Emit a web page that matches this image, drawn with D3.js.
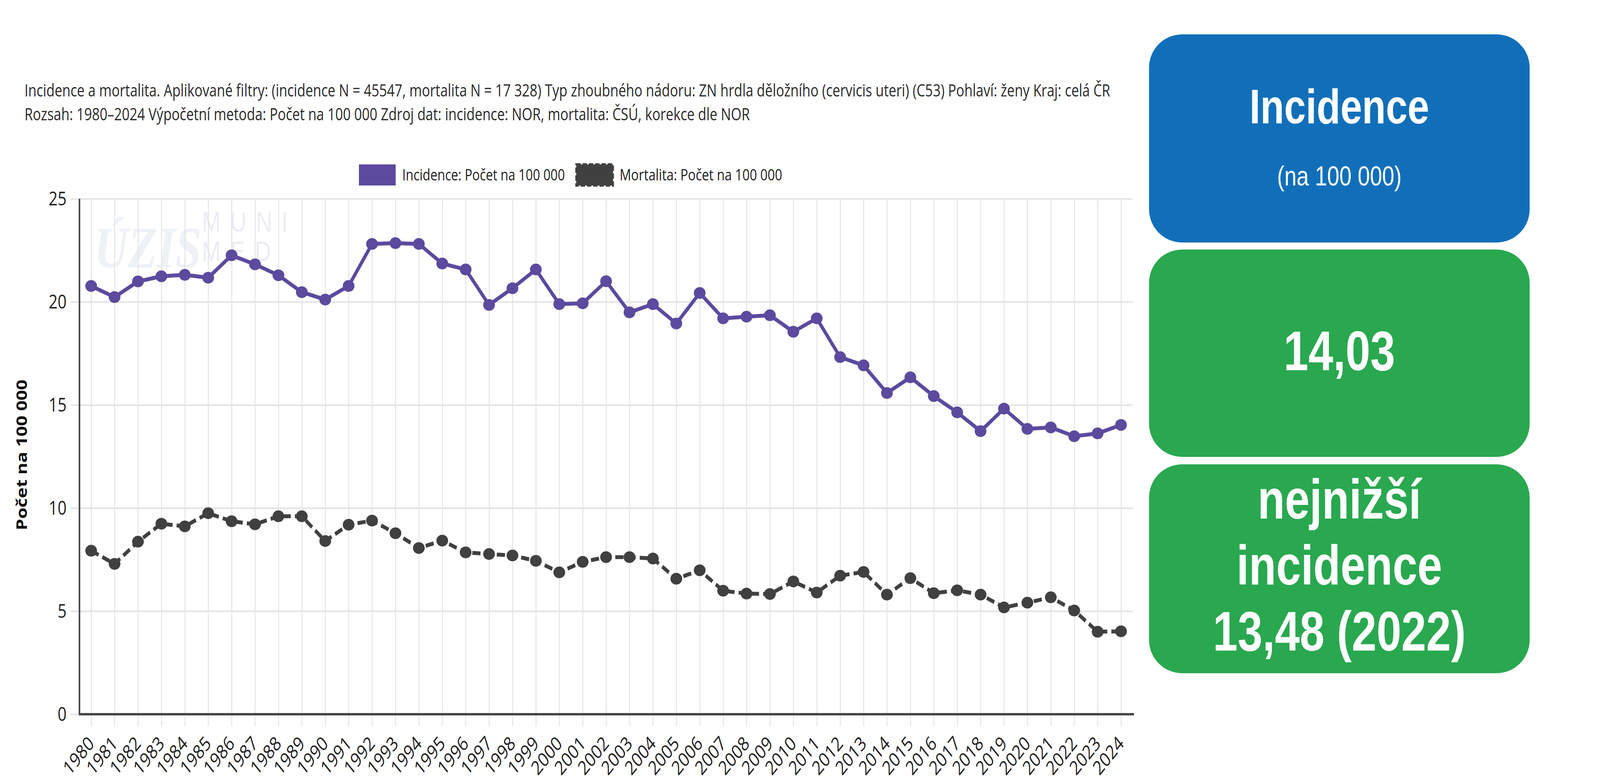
<!DOCTYPE html>
<html>
<head>
<meta charset="utf-8">
<script src="https://cdn.jsdelivr.net/npm/d3@7"></script>
<style>
	html, body { margin: 0; padding: 0; background: #fff; overflow: hidden; }
	svg { display: block; width: 100vw; height: 100vh; }
	.grid line { stroke: #e4e4e4; }
	.grid path { display: none; }
	.ticks path, .ticks line { display: none; }
	.ticks text { font-family: "Open Sans", sans-serif; fill: #222; }
</style>
</head>
<body>
<script>
const years     = d3.range(1980, 2025);
const incidence = [20.77, 20.23, 20.99, 21.24, 21.31, 21.17, 22.26, 21.82, 21.29, 20.47,
                   20.11, 20.77, 22.81, 22.85, 22.81, 21.86, 21.57, 19.85, 20.66, 21.57,
                   19.89, 19.93, 21.00, 19.49, 19.89, 18.95, 20.43, 19.20, 19.28, 19.35,
                   18.55, 19.20, 17.32, 16.92, 15.58, 16.34, 15.43, 14.64, 13.73, 14.82,
                   13.84, 13.91, 13.48, 13.62, 14.03];
const mortality = [7.93, 7.29, 8.37, 9.24, 9.11, 9.75, 9.36, 9.21, 9.60, 9.60,
                   8.40, 9.19, 9.39, 8.78, 8.06, 8.42, 7.85, 7.77, 7.70, 7.44,
                   6.88, 7.39, 7.62, 7.62, 7.55, 6.57, 6.98, 5.99, 5.85, 5.83,
                   6.44, 5.90, 6.72, 6.90, 5.80, 6.60, 5.87, 6.01, 5.80, 5.18,
                   5.41, 5.67, 5.03, 4.00, 4.02];
const yTicks    = [0, 5, 10, 15, 20, 25];

const titleLines = [
	"Incidence a mortalita. Aplikované filtry: (incidence N = 45547, mortalita N = 17 328) Typ zhoubného nádoru: ZN hrdla děložního (cervicis uteri) (C53) Pohlaví: ženy Kraj: celá ČR",
	"Rozsah: 1980–2024 Výpočetní metoda: Počet na 100 000 Zdroj dat: incidence: NOR, mortalita: ČSÚ, korekce dle NOR"
];
const legendLabels = ["Incidence: Počet na 100 000", "Mortalita: Počet na 100 000"];
const yLabel       = "Počet na 100 000";
const panelTitle   = ["Incidence", "(na 100 000)"];
const panelValue   = "14,03";
const panelLowest  = ["nejnižší", "incidence", "13,48 (2022)"];

const W = 5095, H = 2000;
const plot = { left: 253, right: 3607, top: 509, bottom: 1829 };
const colors = { inc: "#5B4A9E", mort: "#404040", axis: "#444", blue: "#116FBA", green: "#29A84F" };

// the window may not be 5095 wide: the drawing is stretched to fill it,
// round things get their x radius corrected so they stay round
const ax = (window.innerHeight / H) / (window.innerWidth / W) || 1;

// stretch/shrink a text to a measured width
const fit = (t, w) => {
	const l = t.node().getComputedTextLength();
	t.attr("font-size", parseFloat(t.attr("font-size")) * w / l);
	return t;
};

const svg = d3.select("body").append("svg")
	.attr("viewBox", `0 0 ${W} ${H}`)
	.attr("preserveAspectRatio", "none");

svg.append("rect").attr("width", W).attr("height", H).attr("fill", "#fff");

// Title
titleLines.forEach((s, i) => {
	const t = svg.append("text")
		.attr("x", 78)
		.attr("y", 247 + i * 61)
		.attr("font-family", "'Open Sans', sans-serif")
		.attr("font-size", 40)
		.attr("fill", "#2a2a2a")
		.text(s);
	fit(t, i == 0 ? 3458 : 2310);
});

// Scales
const x = d3.scalePoint().domain(years).range([plot.left, plot.right]).padding(0.5);
const y = d3.scaleLinear().domain([0, 25]).range([plot.bottom, plot.top]);

// Watermark
const wm = svg.append("g").attr("class", "watermark");
wm.append("text")
	.attr("x", 300).attr("y", 685)
	.attr("font-family", "'Liberation Serif', serif")
	.attr("font-style", "italic").attr("font-weight", 700)
	.attr("font-size", 150).attr("fill", "#eef1f5")
	.text("ÚZIS");
["MUNI", "MED"].forEach((s, i) => {
	wm.append("text")
		.attr("x", 643).attr("y", 593 + i * 76)
		.attr("font-family", "'Liberation Sans', sans-serif")
		.attr("font-size", 72).attr("letter-spacing", 30)
		.attr("fill", "#ececf6")
		.text(s);
});

// Grid
svg.append("g")
	.attr("class", "grid")
	.attr("transform", "translate(225,0)")
	.call(d3.axisLeft(y).tickValues(yTicks).tickSize(-(plot.right - 225)).tickFormat(""))
	.selectAll("line").attr("stroke-width", 4);

svg.append("g")
	.attr("class", "grid")
	.attr("transform", `translate(0,${plot.bottom + 31})`)
	.call(d3.axisBottom(x).tickSize(-(plot.bottom + 31 - plot.top)).tickFormat(""))
	.selectAll("line").attr("stroke-width", 3);

// Axes
svg.append("line")
	.attr("x1", plot.left).attr("x2", plot.left)
	.attr("y1", plot.top).attr("y2", plot.bottom)
	.attr("stroke", colors.axis).attr("stroke-width", 5);
svg.append("line")
	.attr("x1", plot.left - 2).attr("x2", plot.right + 4)
	.attr("y1", plot.bottom).attr("y2", plot.bottom)
	.attr("stroke", colors.axis).attr("stroke-width", 6);

svg.append("g")
	.attr("class", "ticks")
	.attr("transform", `translate(${plot.left},0)`)
	.call(d3.axisLeft(y).tickValues(yTicks).tickSize(0).tickPadding(41))
	.selectAll("text").attr("font-size", 50);

const xt = svg.append("g")
	.attr("class", "ticks")
	.attr("transform", `translate(0,${plot.bottom})`)
	.call(d3.axisBottom(x).tickSize(0));
xt.selectAll("text")
	.attr("font-size", 50)
	.attr("text-anchor", "end")
	.attr("y", 0).attr("dy", 0)
	.attr("transform", "translate(12,78) rotate(-45)");

// Y label
const yl = svg.append("text")
	.attr("transform", `translate(86,${(72 + 458) / 2 + 900}) rotate(-90)`)
	.attr("text-anchor", "middle")
	.attr("font-family", "'Open Sans', sans-serif")
	.attr("font-weight", 700)
	.attr("font-size", 46)
	.attr("fill", "#111")
	.text(yLabel);
fit(yl, 386);

// Series
const series = [
	{ values: incidence, color: colors.inc,  dash: null },
	{ values: mortality, color: colors.mort, dash: "26,13" },
];
const line = d3.line().x((d, i) => x(years[i])).y(d => y(d));

series.forEach(s => {
	const g = svg.append("g");
	g.append("path")
		.datum(s.values)
		.attr("d", line)
		.attr("fill", "none")
		.attr("stroke", s.color)
		.attr("stroke-width", 10)
		.attr("stroke-linejoin", "round")
		.attr("stroke-dasharray", s.dash);
	g.selectAll("ellipse")
		.data(s.values)
		.join("ellipse")
		.attr("cx", (d, i) => x(years[i]))
		.attr("cy", d => y(d))
		.attr("rx", 15 * ax)
		.attr("ry", 15)
		.attr("fill", s.color);
});

// Legend
const legend = svg.append("g").attr("class", "legend");
const legX = [1140, 1832];
legendLabels.forEach((s, i) => {
	const sw = legend.append("rect")
		.attr("x", legX[i] + 3).attr("y", 421)
		.attr("width", 117).attr("height", 54)
		.attr("fill", series[i].color);
	if (series[i].dash) {
		sw.attr("stroke", series[i].color).attr("stroke-width", 6).attr("stroke-dasharray", "14,6");
	}
	const t = legend.append("text")
		.attr("x", legX[i] + 141).attr("y", 462)
		.attr("font-family", "'Open Sans', sans-serif")
		.attr("font-size", 36)
		.attr("fill", "#222")
		.text(s);
	fit(t, 518);
});

// Right panels
const panels = [
	{ top: 88,   bottom: 621,  fill: colors.blue },
	{ top: 639,  bottom: 1170, fill: colors.green },
	{ top: 1189, bottom: 1724, fill: colors.green },
];
const px = 3659, pw = 1212, cx = px + pw / 2;
panels.forEach(p => {
	svg.append("rect")
		.attr("x", px).attr("y", p.top)
		.attr("width", pw).attr("height", p.bottom - p.top)
		.attr("rx", 85 * ax).attr("ry", 85)
		.attr("fill", p.fill);
});

const ptext = (s, yy, size, weight, w) => {
	const t = svg.append("text")
		.attr("x", cx).attr("y", yy)
		.attr("text-anchor", "middle")
		.attr("font-family", "'Liberation Sans', Arial, sans-serif")
		.attr("font-weight", weight)
		.attr("font-size", size)
		.attr("fill", "#fff")
		.text(s);
	return t;
};

ptext(panelTitle[0], 316, 124, 700);
ptext(panelTitle[1], 475, 70, 400);
ptext(panelValue, 948, 142, 700);
panelLowest.forEach((s, i) => ptext(s, 1328 + i * 169, 142, 700));
</script>
</body>
</html>
